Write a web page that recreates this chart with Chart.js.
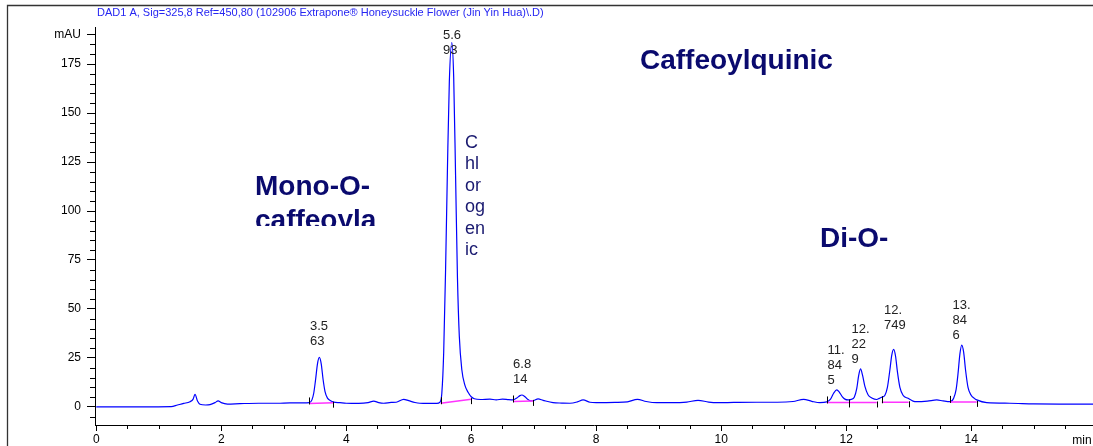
<!DOCTYPE html>
<html>
<head>
<meta charset="utf-8">
<script src="https://cdn.jsdelivr.net/npm/chart.js@4.4.1/dist/chart.umd.min.js"></script>
<style>
  html, body { margin: 0; padding: 0; background: #fff; }
  canvas { display: block; }
</style>
</head>
<body>
<canvas id="chrom" width="1093" height="446"></canvas>
<script>
// retention time (min) and signal (mAU)
const traceTime = [
  0, 1.2, 1.3, 1.4, 1.5, 1.55, 1.58, 1.62, 1.66, 1.75, 1.82, 1.9, 1.95, 2.0, 2.1, 2.3, 2.6, 2.9, 3.1, 3.3,
  3.41, 3.45, 3.48, 3.51, 3.54, 3.57, 3.6, 3.63, 3.66, 3.7, 3.75, 3.8, 3.9, 4.0, 4.2, 4.35, 4.44, 4.52, 4.6,
  4.72, 4.8, 4.92, 5.0, 5.1, 5.18, 5.3, 5.45, 5.5, 5.53, 5.56, 5.59, 5.62, 5.65, 5.69, 5.72, 5.75, 5.78,
  5.81, 5.85, 5.9, 5.95, 6.0, 6.05, 6.15, 6.3, 6.4, 6.5, 6.6, 6.67, 6.73, 6.78, 6.81, 6.85, 6.9, 6.95, 7.0,
  7.07, 7.15, 7.31, 7.45, 7.58, 7.7, 7.79, 7.9, 8.0, 8.3, 8.5, 8.66, 8.8, 8.97, 9.2, 9.45, 9.63, 9.8, 9.94,
  10.2, 10.57, 10.9, 11.15, 11.32, 11.45, 11.58, 11.69, 11.75, 11.8, 11.85, 11.89, 11.94, 11.98, 12.03,
  12.08, 12.13, 12.17, 12.2, 12.23, 12.26, 12.3, 12.35, 12.41, 12.49, 12.53, 12.57, 12.62, 12.66, 12.7,
  12.73, 12.76, 12.79, 12.82, 12.86, 12.91, 12.99, 13.07, 13.13, 13.3, 13.45, 13.55, 13.66, 13.72, 13.76,
  13.79, 13.82, 13.85, 13.88, 13.91, 13.95, 14.0, 14.05, 14.09, 14.25, 14.62, 15.0, 15.5, 15.95
];
const traceSignal = [
  0, 0.2, 1.0, 1.8, 2.7, 4, 6.5, 3, 1.4, 1.0, 1.2, 2.2, 3.1, 2.2, 1.5, 1.7, 1.9, 1.9, 2.1, 2.1,
  2.2, 3.5, 7, 14, 22, 25.3, 22, 14, 8, 4.5, 3.2, 2.5, 2.2, 1.9, 1.8, 2.2, 3.0, 2.2, 1.9,
  2.3, 2.4, 3.9, 3.2, 2.3, 1.9, 1.8, 1.8, 2.5, 7, 28, 70, 122, 166, 186, 168, 118, 66,
  36, 19, 11, 7.5, 5.2, 4.2, 3.8, 4.0, 3.6, 4.0, 3.7, 3.6, 4.6, 5.8, 6.1, 5.5, 4.0, 3.1, 3.3,
  4.1, 3.4, 2.2, 2.0, 1.9, 2.6, 3.6, 2.4, 2.2, 2.3, 2.6, 3.9, 2.8, 2.2, 2.2, 2.5, 3.4, 2.5, 2.2,
  2.3, 2.4, 2.4, 2.8, 3.9, 2.9, 2.2, 2.6, 4, 7, 8.7, 7.6, 5.2, 4.0, 3.6,
  3.9, 5.0, 9.5, 16, 19.4, 16.5, 10.5, 6.2, 4.6, 3.8, 4.4, 5.0, 6, 10, 19,
  26.5, 29.4, 26, 18, 10, 6, 4.4, 3.0, 2.7, 3.0, 3.6, 3.1, 2.7, 4.5, 9,
  17, 27, 31.6, 28, 19, 10, 6, 4.4, 3.6, 2.2, 1.9, 1.6, 1.5, 1.5
];

// integration baselines (magenta)
const baseStart = [3.41, 5.51, 6.67, 11.69, 12.57, 13.66];
const baseStartVal = [1.8, 1.9, 2.8, 2.3, 2.4, 2.6];
const baseEnd = [3.79, 6.0, 6.99, 12.49, 13.0, 14.09];
const baseEndVal = [2.2, 4.0, 3.1, 2.3, 2.4, 2.6];
const splitTimes = [12.05];
const splitVals = [2.3];

// peak retention time labels
const peakTimes = [3.563, 5.693, 6.814, 11.845, 12.229, 12.749, 13.846];
const peakLabels = [['3.5', '63'], ['5.6', '93'], ['6.8', '14'], ['11.', '84', '5'], ['12.', '22', '9'], ['12.', '749'], ['13.', '84', '6']];

const xTicks = [0, 2, 4, 6, 8, 10, 12, 14];
const yTicks = [0, 25, 50, 75, 100, 125, 150, 175, 190];

const titleText = 'DAD1 A, Sig=325,8 Ref=450,80 (102906 Extrapone\u00ae Honeysuckle Flower (Jin Yin Hua)\\.D)';

const FONT = "'Liberation Sans', Arial, sans-serif";

// baseline segments as one dataset with gaps
const baselinePts = [];
baseStart.forEach((s, i) => {
    baselinePts.push({ x: s, y: baseStartVal[i] });
    baselinePts.push({ x: baseEnd[i], y: baseEndVal[i] });
    baselinePts.push({ x: baseEnd[i] + 0.001, y: null });
});

const decorPlugin = {
    id: 'decor',
    beforeDraw(chart) {
        const ctx = chart.ctx;
        ctx.save();
        // outer frame
        ctx.strokeStyle = '#333';
        ctx.lineWidth = 1.3;
        ctx.beginPath();
        ctx.moveTo(7.5, 446);
        ctx.lineTo(7.5, 5.5);
        ctx.lineTo(1093, 5.5);
        ctx.stroke();
        // title
        ctx.fillStyle = '#2626f2';
        ctx.font = '11px ' + FONT;
        ctx.textBaseline = 'middle';
        ctx.textAlign = 'left';
        ctx.fillText(titleText, 97, 13);
        ctx.restore();
    },
    afterDraw(chart) {
        const ctx = chart.ctx;
        const xs = chart.scales.x;
        const ys = chart.scales.y;
        const area = chart.chartArea;
        ctx.save();

        // minor ticks
        ctx.strokeStyle = '#000';
        ctx.lineWidth = 1;
        ctx.beginPath();
        for (let v = -5; v <= 185; v += 5) {
            if (v % 25 === 0) continue;
            const py = Math.round(ys.getPixelForValue(v)) + 0.5;
            ctx.moveTo(area.left - 5, py);
            ctx.lineTo(area.left, py);
        }
        for (let t = 0.5; t < 16; t += 0.5) {
            if (t % 2 === 0) continue;
            const px = Math.round(xs.getPixelForValue(t)) + 0.5;
            ctx.moveTo(px, area.bottom);
            ctx.lineTo(px, area.bottom + 4);
        }
        ctx.stroke();

        // "min" unit
        ctx.fillStyle = '#000';
        ctx.font = '12px ' + FONT;
        ctx.textAlign = 'center';
        ctx.textBaseline = 'middle';
        ctx.fillText('min', 1082, 441);

        // integration event ticks
        ctx.beginPath();
        baseStart.forEach((s, i) => {
            const px = Math.round(xs.getPixelForValue(s)) + 0.5;
            const py = ys.getPixelForValue(baseStartVal[i]);
            ctx.moveTo(px, py + 1);
            ctx.lineTo(px, py - 6);
            const ex = Math.round(xs.getPixelForValue(baseEnd[i])) + 0.5;
            const ey = ys.getPixelForValue(baseEndVal[i]);
            ctx.moveTo(ex, ey - 1);
            ctx.lineTo(ex, ey + 5);
        });
        splitTimes.forEach((s, i) => {
            const px = Math.round(xs.getPixelForValue(s)) + 0.5;
            const py = ys.getPixelForValue(splitVals[i]);
            ctx.moveTo(px, py - 3);
            ctx.lineTo(px, py + 5);
        });
        ctx.stroke();

        // peak labels
        const gaps = [16, -8, 16, 10, 10, 24, 10];
        ctx.font = '13px ' + FONT;
        ctx.textAlign = 'left';
        ctx.fillStyle = '#222';
        peakTimes.forEach((t, i) => {
            let top = 0;
            traceTime.forEach((tt, j) => {
                if (Math.abs(tt - t) < 0.05 && traceSignal[j] > top) top = traceSignal[j];
            });
            const px = xs.getPixelForValue(t) - 9;
            const bottom = ys.getPixelForValue(top) - gaps[i];
            const lines = peakLabels[i];
            lines.forEach((ln, k) => {
                ctx.fillText(ln, px, bottom - (lines.length - 1 - k) * 15);
            });
        });

        // annotations
        ctx.fillStyle = '#0a0a6e';
        ctx.textBaseline = 'alphabetic';
        ctx.font = 'bold 28px ' + FONT;
        ctx.fillText('Caffeoylquinic', 640, 69);
        ctx.fillText('Mono-O-', 255, 195);
        ctx.fillText('Di-O-', 820, 247);
        ctx.save();
        ctx.beginPath();
        ctx.rect(0, 0, 1093, 226);
        ctx.clip();
        ctx.fillText('caffeoyla', 255, 229);
        ctx.restore();

        ctx.fillStyle = '#1a1a70';
        ctx.font = '18px ' + FONT;
        ctx.textBaseline = 'middle';
        ['C', 'hl', 'or', 'og', 'en', 'ic'].forEach((s, k) => {
            ctx.fillText(s, 465, 143 + k * 21.4);
        });

        ctx.restore();
    }
};

const ctx = document.getElementById('chrom').getContext('2d');

new Chart(ctx, {
    type: 'line',
    data: {
        datasets: [
            {
                data: baselinePts,
                borderColor: '#ff33ff',
                borderWidth: 1.5,
                pointRadius: 0,
                spanGaps: false,
                order: 1
            },
            {
                data: traceTime.map((t, i) => ({ x: t, y: traceSignal[i] })),
                borderColor: '#0000ff',
                borderWidth: 1.2,
                pointRadius: 0,
                cubicInterpolationMode: 'monotone',
                order: 2
            }
        ]
    },
    options: {
        responsive: false,
        animation: false,
        layout: { padding: { top: 27, left: 0, right: 0, bottom: 0 } },
        plugins: {
            legend: { display: false },
            title: { display: false },
            tooltip: { enabled: false }
        },
        scales: {
            x: {
                type: 'linear',
                min: -0.02,
                max: 15.95,
                afterBuildTicks(scale) {
                    scale.ticks = xTicks.map(v => ({ value: v }));
                },
                afterFit(scale) { scale.height = 21; },
                ticks: {
                    autoSkip: false,
                    maxRotation: 0,
                    padding: 1,
                    color: '#000',
                    font: { family: FONT, size: 12 }
                },
                grid: { drawOnChartArea: false, tickLength: 6, color: '#000' },
                border: { color: '#000', width: 1 }
            },
            y: {
                min: -9.2,
                max: 193.9,
                afterBuildTicks(scale) {
                    scale.ticks = yTicks.map(v => ({ value: v }));
                },
                afterFit(scale) { scale.width = 95; },
                ticks: {
                    padding: 6,
                    color: '#000',
                    font: { family: FONT, size: 12 },
                    callback: v => (v === 190 ? 'mAU' : v)
                },
                grid: { drawOnChartArea: false, tickLength: 8, color: '#000' },
                border: { color: '#000', width: 1 }
            }
        }
    },
    plugins: [decorPlugin]
});
</script>
</body>
</html>
